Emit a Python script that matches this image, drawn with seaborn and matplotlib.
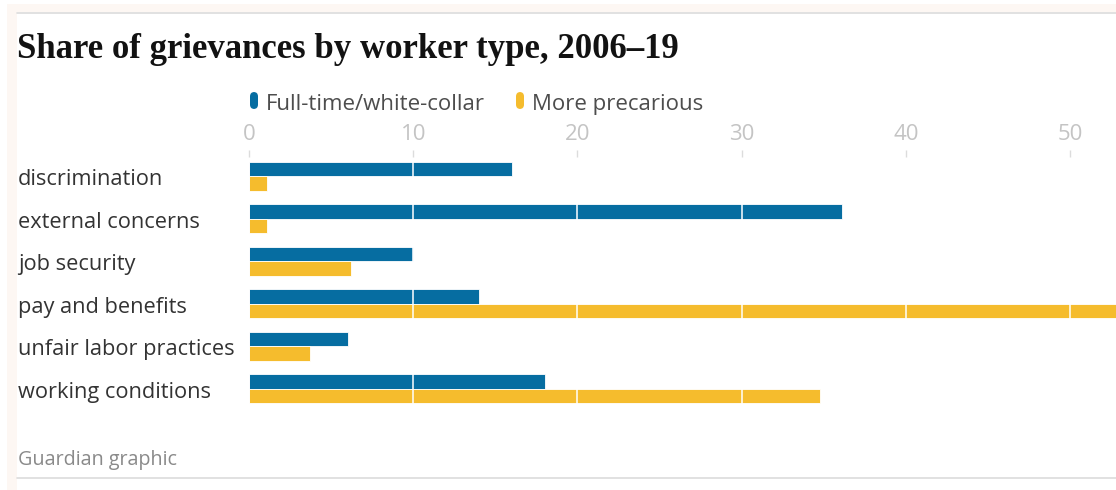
import matplotlib
matplotlib.use("Agg")
import matplotlib.pyplot as plt
import matplotlib.transforms as mtransforms
from matplotlib.patches import FancyBboxPatch, Rectangle
from matplotlib.lines import Line2D
import seaborn as sns
import pandas as pd

categories = ["discrimination", "external concerns", "job security",
              "pay and benefits", "unfair labor practices", "working conditions"]
full_time = [16.0, 36.1, 10.0, 14.0, 6.0, 18.0]
precarious = [1.1, 1.1, 6.2, 56.0, 3.7, 34.8]
series_names = ["Full-time/white-collar", "More precarious"]
x_ticks = [0, 10, 20, 30, 40, 50]
title = "Share of grievances by worker type, 2006\u201319"
source = "Guardian graphic"

colors = ["#066da1", "#f5bc2d"]

df = pd.DataFrame({
    "category": categories * 2,
    "value": full_time + precarious,
    "series": [series_names[0]] * len(categories) + [series_names[1]] * len(categories),
})

sns.set_theme(style="white")
plt.rcParams["font.family"] = ["Open Sans", "DejaVu Sans"]

W, H = 1116, 490
fig = plt.figure(figsize=(W / 100, H / 100), dpi=100)
fig.patch.set_facecolor("white")


def fx(px):
    return px / W


def fy(py):
    return 1 - py / H


# outer frame: pale strip along top and left, thin grey rules
fig.patches.append(Rectangle((fx(7), fy(12)), 1 - fx(7), fy(4) - fy(12),
                             transform=fig.transFigure, facecolor="#fdf7f3", edgecolor="none"))
fig.patches.append(Rectangle((fx(7), 0), fx(17) - fx(7), fy(4),
                             transform=fig.transFigure, facecolor="#fdf7f3", edgecolor="none"))
fig.lines.append(Line2D([fx(17), 1], [fy(13), fy(13)], transform=fig.transFigure,
                        color="#dcdcdc", lw=1.2))
fig.lines.append(Line2D([fx(17), 1], [fy(478), fy(478)], transform=fig.transFigure,
                        color="#dcdcdc", lw=1.2))

# plot area
ax_top, ax_bottom, ax_left = 157, 410, 249
ax = fig.add_axes([fx(ax_left), fy(ax_bottom), 1 - fx(ax_left), (ax_bottom - ax_top) / H])

sns.barplot(data=df, y="category", x="value", hue="series", order=categories,
            hue_order=series_names, palette=colors, saturation=1, orient="h",
            width=0.68, dodge=True, gap=0, edgecolor="#ffffff", linewidth=0.6,
            legend=False, ax=ax)

ax.set_xlim(0, (W - ax_left) / 16.42)
ax.set_ylim(5.5, -0.45)
ax.set_xlabel("")
ax.set_ylabel("")
for s in ax.spines.values():
    s.set_visible(False)

ax.xaxis.tick_top()
ax.set_xticks(x_ticks)
ax.set_xticklabels([str(t) for t in x_ticks])
ax.tick_params(axis="x", which="major", top=True, bottom=False, direction="out",
               length=5, width=1, color="#dcdcdc", pad=4, labelsize=16, labelcolor="#c4c4c4")
ax.set_yticks([])

# white gridlines drawn over the bars
ax.set_axisbelow(False)
ax.grid(axis="x", color="white", lw=1.1)
ax.grid(axis="y", visible=False)

# category labels, left-aligned at the figure margin
blend = mtransforms.blended_transform_factory(fig.transFigure, ax.transData)
label_tr = mtransforms.offset_copy(blend, fig=fig, y=-9, units="dots")
for i, cat in enumerate(categories):
    ax.text(fx(18), i, cat, transform=label_tr, ha="left", va="baseline",
            fontsize=15.7, color="#333333", clip_on=False)

# title
fig.text(fx(17), fy(58), title, ha="left", va="baseline", fontsize=25,
         fontweight="bold", family=["Liberation Serif", "DejaVu Serif"], color="#121212")

# legend with rounded swatches
legend_x = [249, 515]
for xpos, name, col in zip(legend_x, series_names, colors):
    fig.patches.append(FancyBboxPatch((fx(xpos + 1), fy(109)), fx(8), (109 - 92) / H,
                                      boxstyle="round,pad=0,rounding_size=0.004",
                                      transform=fig.transFigure, facecolor=col,
                                      edgecolor="none", mutation_aspect=W / H))
    fig.text(fx(xpos + 17), fy(110), name, ha="left", va="baseline", fontsize=16,
             color="#4d4d4d")

# source note
fig.text(fx(18), fy(465), source, ha="left", va="baseline", fontsize=14.2, color="#8a8a8a")

fig.savefig("out.png", dpi=100, facecolor="white")
